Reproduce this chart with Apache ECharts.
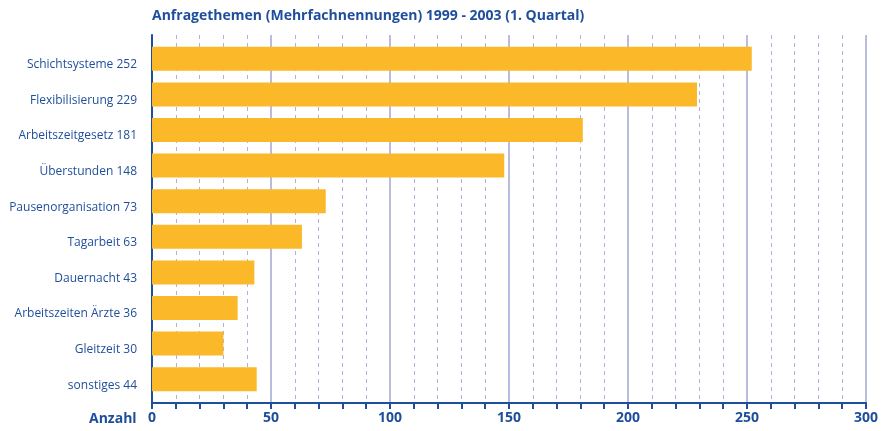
<!DOCTYPE html>
<html>
<head>
<meta charset="utf-8">
<script src="https://cdn.jsdelivr.net/npm/echarts@6/dist/echarts.min.js"></script>
<style>
  html, body { margin: 0; padding: 0; background: #fff; }
  #chart { width: 882px; height: 431px; }
</style>
</head>
<body>
<div id="chart"></div>
<script>
  // data
  var titleText = 'Anfragethemen (Mehrfachnennungen) 1999 - 2003 (1. Quartal)';
  var themen = ['Schichtsysteme', 'Flexibilisierung', 'Arbeitszeitgesetz', 'Überstunden',
    'Pausenorganisation', 'Tagarbeit', 'Dauernacht', 'Arbeitszeiten Ärzte', 'Gleitzeit', 'sonstiges'];
  var anzahl = [252, 229, 181, 148, 73, 63, 43, 36, 30, 44];
  var axisName = 'Anzahl';

  var blue = '#1f4e9c';
  var chart = echarts.init(document.getElementById('chart'));

  var option = {
    backgroundColor: '#fff',
    animation: false,
    title: {
      text: titleText,
      left: 152,
      top: 9,
      padding: 0,
      textStyle: { color: blue, fontSize: 14, fontWeight: 'bold', fontFamily: 'Open Sans' }
    },
    graphic: [{
      type: 'text',
      left: 89,
      top: 412,
      style: { text: axisName, fill: blue, fontSize: 14, fontWeight: 'bold', fontFamily: 'Open Sans' }
    }],
    grid: [
      // frame: axis lines and gridlines
      { left: 152, right: 16, top: 35, bottom: 28 },
      // bars
      { left: 152, right: 16, top: 41, bottom: 34 }
    ],
    xAxis: [{
      gridIndex: 0,
      type: 'value',
      min: 0,
      max: 300,
      interval: 50,
      axisLine: { show: true, lineStyle: { color: blue, width: 2 } },
      axisTick: { show: true, inside: false, length: 6, lineStyle: { color: blue, width: 2 } },
      minorTick: { show: true, splitNumber: 5, length: 6, lineStyle: { color: blue, width: 2 } },
      axisLabel: { color: blue, fontSize: 14, fontWeight: 'bold', fontFamily: 'Open Sans', margin: 8 },
      splitLine: { show: true, lineStyle: { color: '#b9bcdc', width: 2 } },
      minorSplitLine: { show: true, lineStyle: { color: '#aeb0d6', width: 1, type: [4, 4] } }
    }, {
      gridIndex: 1,
      type: 'value',
      min: 0,
      max: 300,
      show: false
    }],
    yAxis: [{
      gridIndex: 0,
      type: 'value',
      min: 0,
      max: 1,
      axisLine: { show: true, lineStyle: { color: blue, width: 2 } },
      axisTick: { show: false },
      axisLabel: { show: false },
      splitLine: { show: false }
    }, {
      gridIndex: 1,
      type: 'category',
      inverse: true,
      data: themen,
      axisLine: { show: false },
      axisTick: { show: false },
      axisLabel: {
        color: blue,
        fontSize: 12,
        fontFamily: 'Open Sans',
        margin: 15,
        verticalAlign: 'top',
        formatter: function (v, i) { return v + ' ' + anzahl[i]; }
      }
    }],
    series: [{
      type: 'bar',
      xAxisIndex: 1,
      yAxisIndex: 1,
      data: anzahl,
      barWidth: 24,
      itemStyle: { color: '#fbb829' },
      z: 3
    }]
  };

  chart.setOption(option);
</script>
</body>
</html>
